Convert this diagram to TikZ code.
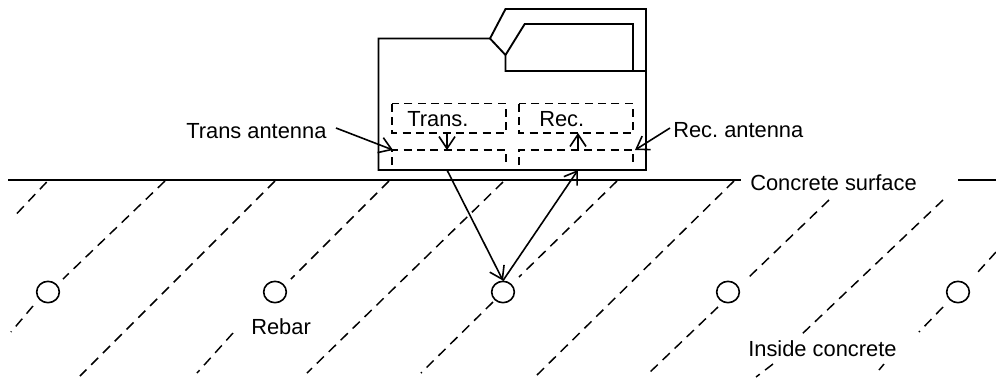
\documentclass[tikz,border=0pt]{standalone}
\usepackage{fontspec}
\setmainfont{Liberation Sans}
\usetikzlibrary{arrows.meta,shapes.geometric}
\frenchspacing
\tikzset{
  solidline/.style={draw=black,line width=1.4pt,line join=miter},
  dashline/.style={draw=black,line width=1.2pt,dash pattern=on 6pt off 4pt},
  diag/.style={draw=black,line width=1.1pt,dash pattern=on 7.5pt off 5pt},
  ray/.style={draw=black,line width=1.2pt,-{Straight Barb[length=9pt,width=12pt,line width=1.2pt]}},
  rebar/.style={ellipse,draw=black,line width=1.2pt,inner sep=0pt,minimum width=17pt,minimum height=16pt},
  lbl/.style={inner sep=0pt,anchor=west,font=\fontsize{16.4}{18}\selectfont\frenchspacing,text=black}
}
\begin{document}
\begin{tikzpicture}[x=0.75pt,y=-0.75pt]
\useasboundingbox (0,0) rectangle (996,380);
\fill[white] (0,0) rectangle (996,380);
% surface
\coordinate (s1) at (8,180); \coordinate (s2) at (741,180);
\coordinate (s3) at (958,180); \coordinate (s4) at (996,180);
\draw[solidline] (s1) -- (s2);
\draw[solidline] (s3) -- (s4);
% diagonals
\foreach \a/\b/\c/\d in {
 46.7/182/12.7/218, 165/181/63/279, 33/306/11/332, 275/181/80/376,
 389/181/291/279, 233/333/197/373, 503/182/307/373, 617/181/519/277,
 493/302/421/373, 734/181/537/375, 829/200/749/277, 718/307/649/373,
 943/200/801/335, 773/364/756/377, 884/364/879/370, 943/307/919/332,
 996/252/977/273}{
  \draw[diag] (\a,\b) -- (\c,\d);
}
% device
\draw[solidline,fill=white] (378.5,38.5) -- (490,38.5) -- (505.5,9) -- (646,9) -- (646,170) -- (378.5,170) -- cycle;
\draw[solidline] (490,38.5) -- (505.5,55) -- (505.5,71) -- (646,71);
\draw[solidline] (505.5,55) -- (524.7,24) -- (633,24) -- (633,71);
% dashed antenna boxes
\draw[dashline] (392,103.5) rectangle (506,133);
\draw[dashline] (519,103.5) rectangle (633,133);
\draw[dashline] (392,165) -- (392,150) -- (506,150) -- (506,165);
\draw[dashline] (519,165) -- (519,150) -- (633,150) -- (633,165);
% rebars
\node[rebar] (r1) at (48,292) {};
\node[rebar] (r2) at (275,292) {};
\node[rebar] (r3) at (503,292) {};
\node[rebar] (r4) at (728,292) {};
\node[rebar] (r5) at (958,292) {};
% labels
\node[lbl] (ta) at (186,131) {Trans antenna};
\node[lbl] (ra) at (673,130) {Rec. antenna};
\node[lbl] (tr) at (407,119) {Trans.};
\node[lbl] (rc) at (539,119) {Rec.};
\node[lbl] (cs) at (750,183) {Concrete surface};
\node[lbl] (rb) at (251,327) {Rebar};
\node[lbl] (ic) at (748,349) {Inside concrete};
% arrows
\coordinate (t0) at (447,133); \coordinate (t1) at (447,150);
\coordinate (q0) at (578,150); \coordinate (q1) at (578,133);
\coordinate (a0) at (447,170); \coordinate (a1) at (578,170);
\coordinate (ta0) at (336,128); \coordinate (ta1) at (393,150);
\coordinate (ra0) at (670,128); \coordinate (ra1) at (635,150);
\draw[ray] (t0) -- (t1);
\draw[ray] (q0) -- (q1);
\draw[ray] (ta0) -- (ta1);
\draw[ray] (ra0) -- (ra1);
\draw[ray] (a0) -- (r3.north);
\draw[ray] (r3.north) -- (a1);
\end{tikzpicture}
\end{document}
